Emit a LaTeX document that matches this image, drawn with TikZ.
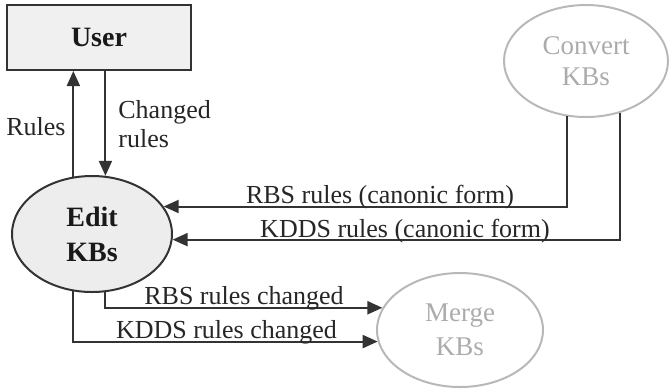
\documentclass[tikz,border=0pt]{standalone}
\usepackage{fontspec}
\setmainfont{Liberation Serif}
\usetikzlibrary{shapes.geometric,arrows.meta}
\begin{document}
\begin{tikzpicture}[x=0.5pt,y=-0.5pt,
  line/.style={draw=black!80, line width=1pt},
  arr/.style={line, -{Triangle[length=7.5pt,width=6.5pt]}},
  lbl/.style={font=\fontsize{13}{14.5}\selectfont, inner sep=0pt, text=black!85},
  mainnode/.style={draw=black!80, line width=1pt, inner sep=0pt, text=black!90},
  greynode/.style={ellipse, draw=black!28, line width=1pt, inner sep=0pt, text=black!33, align=center}]
\useasboundingbox (0,0) rectangle (670,388);
% nodes
\node[mainnode, rectangle, fill=black!6, minimum width=92pt, minimum height=32.5pt,
      font=\fontsize{14}{16}\selectfont\bfseries] (user) at (99,37.5) {User};
\node[mainnode, ellipse, fill=black!7, minimum width=80pt, minimum height=58pt, align=center,
      font=\fontsize{14}{17.5}\selectfont\bfseries] (edit) at (92,234) {Edit\\KBs};
\node[greynode, minimum width=82pt, minimum height=56pt,
      font=\fontsize{13.5}{15.5}\selectfont] (convert) at (586,61) {Convert\\KBs};
\node[greynode, minimum width=83pt, minimum height=57pt,
      font=\fontsize{13.5}{17}\selectfont] (merge) at (460,330) {Merge\\KBs};
% connectors
\draw[arr] (edit.108.6) -- (edit.108.6 |- user.south);
\draw[arr] (user.south -| edit.77.2) -- (edit.77.2);
\draw[arr] (convert.-109.3) |- (edit.21);
\draw[arr] (convert.-57.2) |- (edit.-4.3);
\draw[arr] (edit.-77.2) |- (merge.164);
\draw[arr] (edit.-108.6) |- (merge.188.4);
% labels
\node[lbl, anchor=base east] (lrules) at (66,135) {Rules};
\node[lbl, anchor=base west] (lchanged) at (118,118) {Changed};
\node[lbl, anchor=base west] (lchanged2) at (118,147) {rules};
\node[lbl, anchor=base] (lrbsc) at (380,203) {RBS rules (canonic form)};
\node[lbl, anchor=base] (lkddsc) at (405,237) {KDDS rules (canonic form)};
\node[lbl, anchor=base] (lrbsch) at (244,304) {RBS rules changed};
\node[lbl, anchor=base] (lkddsch) at (226.5,338) {KDDS rules changed};
\end{tikzpicture}
\end{document}
